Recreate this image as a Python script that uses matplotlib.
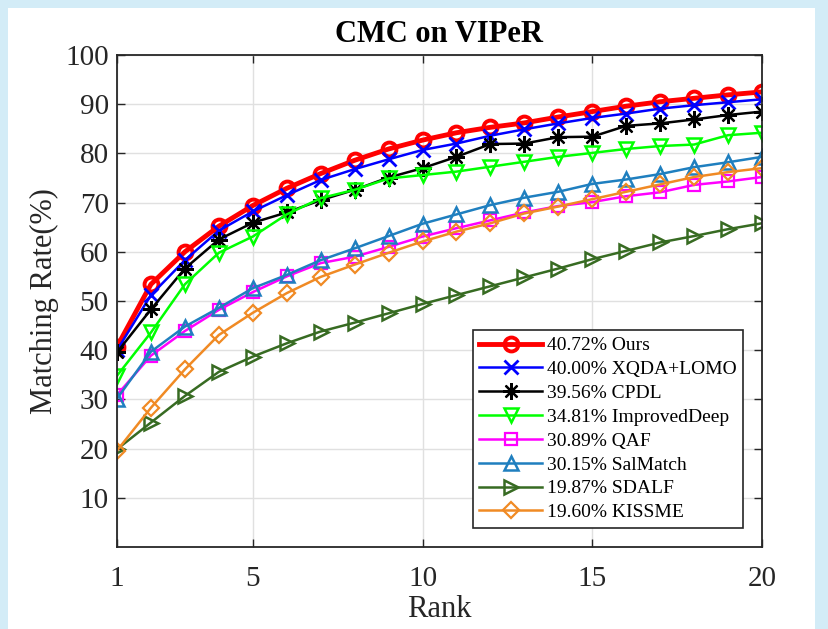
import matplotlib.pyplot as plt
from matplotlib.patches import Rectangle

plt.rcParams['font.family'] = ['Liberation Serif', 'DejaVu Serif']

rank = list(range(1, 21))

ours = [40.72, 53.4, 60.0, 65.2, 69.4, 72.9, 75.9, 78.6, 80.9, 82.7,
        84.2, 85.3, 86.2, 87.4, 88.5, 89.6, 90.5, 91.2, 91.9, 92.5]
xqda = [40.00, 51.2, 58.3, 64.3, 68.2, 71.5, 74.6, 76.8, 78.8, 80.7,
        82.0, 83.6, 84.9, 86.1, 87.2, 88.1, 89.1, 89.8, 90.4, 91.0]
cpdl = [39.56, 48.3, 56.6, 62.5, 65.9, 68.0, 70.5, 72.6, 75.1, 77.0,
        79.3, 81.9, 82.0, 83.3, 83.4, 85.6, 86.1, 86.9, 87.8, 88.5]
improved_deep = [34.81, 43.6, 53.4, 59.8, 63.1, 67.6, 70.9, 72.6, 74.9, 75.6,
                 76.3, 77.3, 78.3, 79.3, 80.1, 80.9, 81.5, 81.8, 83.7, 84.2]
qaf = [30.89, 38.9, 43.9, 48.2, 51.8, 55.0, 57.7, 59.0, 61.0, 63.1,
       64.8, 66.4, 68.0, 69.3, 70.1, 71.3, 72.1, 73.6, 74.3, 75.2]
salmatch = [30.15, 39.7, 44.8, 48.6, 52.6, 55.3, 58.3, 60.7, 63.2, 65.7,
            67.6, 69.5, 71.0, 72.2, 73.8, 74.7, 75.8, 77.2, 78.2, 79.3]
sdalf = [19.87, 25.3, 30.7, 35.6, 38.7, 41.4, 43.8, 45.6, 47.5, 49.4,
         51.2, 53.0, 54.8, 56.6, 58.5, 60.2, 61.9, 63.2, 64.6, 65.8]
kissme = [19.60, 28.3, 36.1, 43.1, 47.6, 51.6, 54.9, 57.4, 59.8, 62.1,
          64.1, 65.8, 67.8, 69.2, 70.7, 72.2, 73.7, 75.2, 76.2, 77.0]

labels = ['40.72% Ours', '40.00% XQDA+LOMO', '39.56% CPDL', '34.81% ImprovedDeep',
          '30.89% QAF', '30.15% SalMatch', '19.87% SDALF', '19.60% KISSME']

fig = plt.figure(figsize=(8.29, 6.29), dpi=100, facecolor='#d3ecf7')
fig.patches.append(Rectangle((8 / 829, 0), 807 / 829, 621 / 629, transform=fig.transFigure,
                             facecolor='white', edgecolor='none', zorder=-10))
ax = fig.add_axes([117 / 829, 1 - 547 / 629, 645 / 829, 492 / 629])
ax.set_facecolor('white')

ax.plot(rank, ours, color='#ff0000', lw=3.5, marker='o', ms=10, mew=2.8, mfc='none', label=labels[0])
ax.plot(rank, xqda, color='#0000ff', lw=1.8, marker='x', ms=10, mew=2, label=labels[1])
ax.plot(rank, cpdl, color='black', lw=1.8, marker=(8, 2, 0), ms=12, mew=1.6, label=labels[2])
ax.plot(rank, improved_deep, color='#00ff00', lw=1.8, marker='v', ms=10, mew=1.8, mfc='none', label=labels[3])
ax.plot(rank, qaf, color='#ff00ff', lw=1.8, marker='s', ms=8, mew=1.6, mfc='none', label=labels[4])
ax.plot(rank, salmatch, color='#1f7fbf', lw=1.8, marker='^', ms=10, mew=1.8, mfc='none', label=labels[5])
ax.plot(rank, sdalf, color='#376b22', lw=1.8, marker='>', ms=10, mew=1.8, mfc='none', label=labels[6])
ax.plot(rank, kissme, color='#f08a24', lw=1.8, marker='D', ms=8, mew=1.6, mfc='none', label=labels[7])

ax.set_xlim(1, 20)
ax.set_ylim(0, 100)
ax.set_xticks([1, 5, 10, 15, 20])
ax.set_yticks(range(10, 101, 10))
ax.grid(True, color='#e0e0e0', lw=1)
ax.set_axisbelow(True)
ax.tick_params(direction='in', length=6, width=1, top=True, right=True,
               labelsize=21, colors='#262626')
ax.tick_params(axis='x', pad=14)
ax.tick_params(axis='y', pad=6)
for s in ax.spines.values():
    s.set_color('#262626')
    s.set_linewidth(1.3)

ax.set_title('CMC on VIPeR', fontsize=22, fontweight='bold', pad=9)
ax.set_xlabel('Rank', fontsize=22, color='#262626', labelpad=2)
ax.set_ylabel('Matching Rate(%)', fontsize=22, color='#262626', labelpad=4)

leg = ax.legend(loc='lower right', bbox_to_anchor=(0.9705, 0.0386), fontsize=14,
                handlelength=3.2, handletextpad=0.25, labelspacing=0.32,
                borderpad=0.35, borderaxespad=0, fancybox=False, framealpha=1,
                edgecolor='#262626')
leg.get_frame().set_linewidth(1.2)

fig.savefig('out.png', dpi=100, facecolor=fig.get_facecolor())
